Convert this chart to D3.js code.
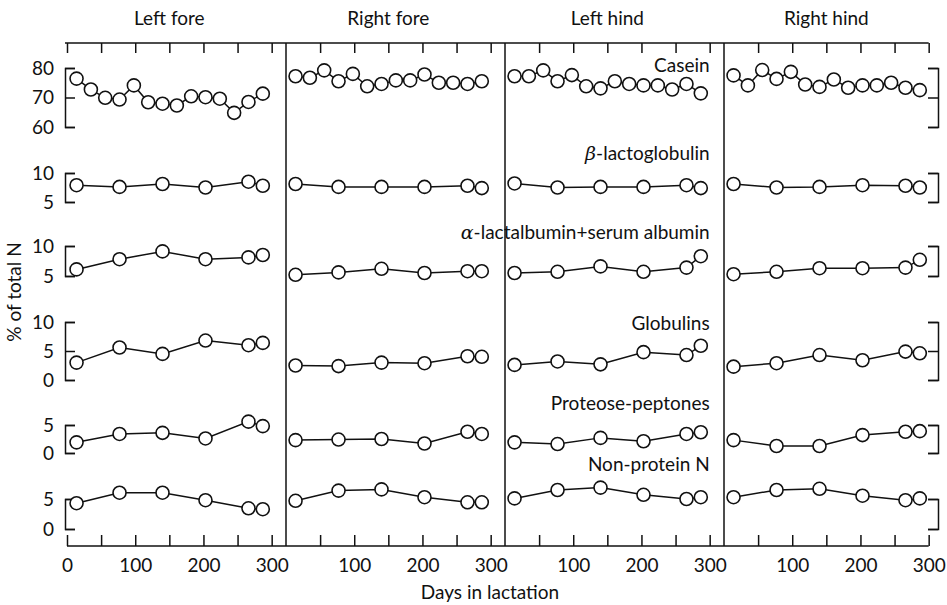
<!DOCTYPE html>
<html>
<head>
<meta charset="utf-8">
<script src="https://cdn.jsdelivr.net/npm/d3@7"></script>
<style>
  body { margin: 0; background: #fff; }
  text { font-family: Lato, "Open Sans", sans-serif; fill: #111; }
</style>
</head>
<body>
<svg id="chart" width="947" height="605"></svg>
<script>
// quarters of the udder, one panel each
var quarters = ["Left fore", "Right fore", "Left hind", "Right hind"];

// sampling days
var caseinDays = [14, 35, 56, 77, 98, 119, 140, 161, 182, 203, 224, 245, 266, 287];
var fractionDays = [14, 77, 140, 203, 266, 287];

// % of total N, one row per quarter
var casein = [
  [76.4, 72.7, 69.9, 69.3, 74.1, 68.4, 67.9, 67.3, 70.4, 70.1, 69.6, 64.8, 68.5, 71.3],
  [77.2, 76.7, 79.2, 75.5, 78.0, 73.8, 74.6, 75.8, 75.8, 77.8, 75.0, 75.0, 74.6, 75.5],
  [77.2, 77.2, 79.2, 75.5, 77.6, 73.8, 73.1, 75.5, 74.6, 74.1, 74.1, 72.7, 74.6, 71.4],
  [77.5, 74.1, 79.3, 76.3, 78.7, 74.4, 73.6, 76.1, 73.3, 74.1, 74.1, 75.0, 73.3, 72.5]
];
var betaLactoglobulin = [
  [7.9, 7.6, 8.1, 7.5, 8.5, 7.8],
  [8.1, 7.6, 7.6, 7.6, 7.8, 7.4],
  [8.2, 7.5, 7.6, 7.6, 7.9, 7.4],
  [8.1, 7.5, 7.6, 7.9, 7.8, 7.5]
];
var alphaLactalbumin = [
  [6.1, 7.8, 9.1, 7.8, 8.1, 8.5],
  [5.2, 5.6, 6.2, 5.5, 5.8, 5.8],
  [5.5, 5.7, 6.6, 5.7, 6.4, 8.3],
  [5.3, 5.7, 6.3, 6.3, 6.4, 7.7]
];
var globulins = [
  [3.0, 5.6, 4.5, 6.8, 6.0, 6.4],
  [2.5, 2.4, 3.0, 2.9, 4.1, 4.0],
  [2.6, 3.2, 2.7, 4.8, 4.3, 5.9],
  [2.3, 2.9, 4.3, 3.4, 4.9, 4.6]
];
var proteosePeptones = [
  [1.9, 3.4, 3.6, 2.6, 5.6, 4.8],
  [2.3, 2.4, 2.5, 1.7, 3.8, 3.4],
  [1.9, 1.6, 2.7, 2.1, 3.4, 3.7],
  [2.3, 1.25, 1.25, 3.2, 3.8, 3.9]
];
var nonProteinN = [
  [4.3, 6.05, 6.05, 4.8, 3.45, 3.3],
  [4.7, 6.4, 6.6, 5.3, 4.45, 4.45],
  [5.1, 6.5, 6.9, 5.7, 5.0, 5.3],
  [5.3, 6.5, 6.7, 5.55, 4.8, 5.1]
];

// tick values
var caseinTicks = [60, 70, 80];
var tenTicks = [5, 10];
var globulinTicks = [0, 5, 10];
var fiveTicks = [0, 5];
var dayTicks = [0, 50, 100, 150, 200, 250, 300];

var series = [
  {greek: "", name: "Casein", values: casein, days: caseinDays, ticks: caseinTicks, domain: [60, 80], range: [127, 68], labelY: 72},
  {greek: "\u03b2", name: "-lactoglobulin", values: betaLactoglobulin, days: fractionDays, ticks: tenTicks, domain: [5, 10], range: [202, 173], labelY: 160},
  {greek: "\u03b1", name: "-lactalbumin+serum albumin", values: alphaLactalbumin, days: fractionDays, ticks: tenTicks, domain: [5, 10], range: [276, 246], labelY: 239},
  {greek: "", name: "Globulins", values: globulins, days: fractionDays, ticks: globulinTicks, domain: [0, 10], range: [380, 322], labelY: 330},
  {greek: "", name: "Proteose-peptones", values: proteosePeptones, days: fractionDays, ticks: fiveTicks, domain: [0, 5], range: [453, 425], labelY: 410},
  {greek: "", name: "Non-protein N", values: nonProteinN, days: fractionDays, ticks: fiveTicks, domain: [0, 5], range: [529, 499], labelY: 471}
];

var svg = d3.select("#chart");
var panelLeft = 67, panelWidth = 219, topY = 43, bottomY = 546;
var fontSize = 19;

var xs = quarters.map((q, i) => d3.scaleLinear()
  .domain([0, 321])
  .range([panelLeft + i * panelWidth, panelLeft + (i + 1) * panelWidth]));

// frame lines
var frame = svg.append("g").attr("stroke", "#111").attr("stroke-width", 1.5);
frame.append("line")
  .attr("x1", xs[0](0) - 2).attr("x2", xs[3](300))
  .attr("y1", topY).attr("y2", topY);
frame.append("line")
  .attr("x1", xs[0](0)).attr("x2", xs[3](300))
  .attr("y1", bottomY).attr("y2", bottomY);
for (var i = 1; i < 4; i++) {
  frame.append("line")
    .attr("x1", xs[i](0)).attr("x2", xs[i](0))
    .attr("y1", topY).attr("y2", bottomY);
}

// day axes
quarters.forEach(function(q, i) {
  var vals = i ? dayTicks.slice(1) : dayTicks;

  var top = svg.append("g")
    .attr("transform", `translate(0,${topY})`)
    .call(d3.axisBottom(xs[i]).tickValues(vals).tickSize(10).tickFormat(""));
  top.select(".domain").remove();

  var bot = svg.append("g")
    .attr("transform", `translate(0,${bottomY})`)
    .call(d3.axisBottom(xs[i]).tickValues(vals).tickSize(-11).tickPadding(13)
      .tickFormat(d => d % 100 === 0 ? d : ""));
  bot.select(".domain").remove();
  bot.selectAll("text").attr("font-size", fontSize).attr("font-family", null);

  svg.append("text")
    .attr("x", xs[i](150))
    .attr("y", 25)
    .attr("text-anchor", "middle")
    .attr("font-size", fontSize)
    .text(q);
});

// protein fractions
var line = d3.line();
series.forEach(function(s) {
  var y = d3.scaleLinear().domain(s.domain).range(s.range);

  var left = svg.append("g")
    .attr("transform", `translate(${xs[0](0) - 2},0)`)
    .call(d3.axisLeft(y).tickValues(s.ticks).tickFormat(d3.format("d"))
      .tickSizeInner(-10).tickSizeOuter(-10).tickPadding(11));
  left.selectAll("text").attr("font-size", fontSize).attr("font-family", null);

  svg.append("g")
    .attr("transform", `translate(${xs[3](0) + 214},0)`)
    .call(d3.axisRight(y).tickValues(s.ticks).tickSizeInner(-10).tickSizeOuter(-10).tickFormat(""));

  quarters.forEach(function(q, i) {
    var pts = s.values[i].map((v, j) => [xs[i](s.days[j]), y(v)]);
    svg.append("path")
      .attr("d", line(pts))
      .attr("fill", "none")
      .attr("stroke", "#111")
      .attr("stroke-width", 1.5);
    svg.append("g").selectAll("circle")
      .data(pts)
      .join("circle")
      .attr("cx", d => d[0])
      .attr("cy", d => d[1])
      .attr("r", 6.5)
      .attr("fill", "#fff")
      .attr("stroke", "#111")
      .attr("stroke-width", 1.6);
  });

  var lab = svg.append("text")
    .attr("x", xs[2](300))
    .attr("y", s.labelY)
    .attr("text-anchor", "end")
    .attr("font-size", fontSize);
  if (s.greek) lab.append("tspan").attr("font-style", "italic").attr("font-family", "DejaVu Serif").text(s.greek);
  lab.append("tspan").text(s.name);
});

svg.selectAll(".domain").attr("stroke", "#111").attr("stroke-width", 1.5);
svg.selectAll(".tick line").attr("stroke", "#111").attr("stroke-width", 1.5);

// axis titles
svg.append("text")
  .attr("transform", "translate(21,292) rotate(-90)")
  .attr("text-anchor", "middle")
  .attr("font-size", fontSize)
  .text("% of total N");

svg.append("text")
  .attr("x", 490)
  .attr("y", 599)
  .attr("text-anchor", "middle")
  .attr("font-size", fontSize)
  .text("Days in lactation");
</script>
</body>
</html>
